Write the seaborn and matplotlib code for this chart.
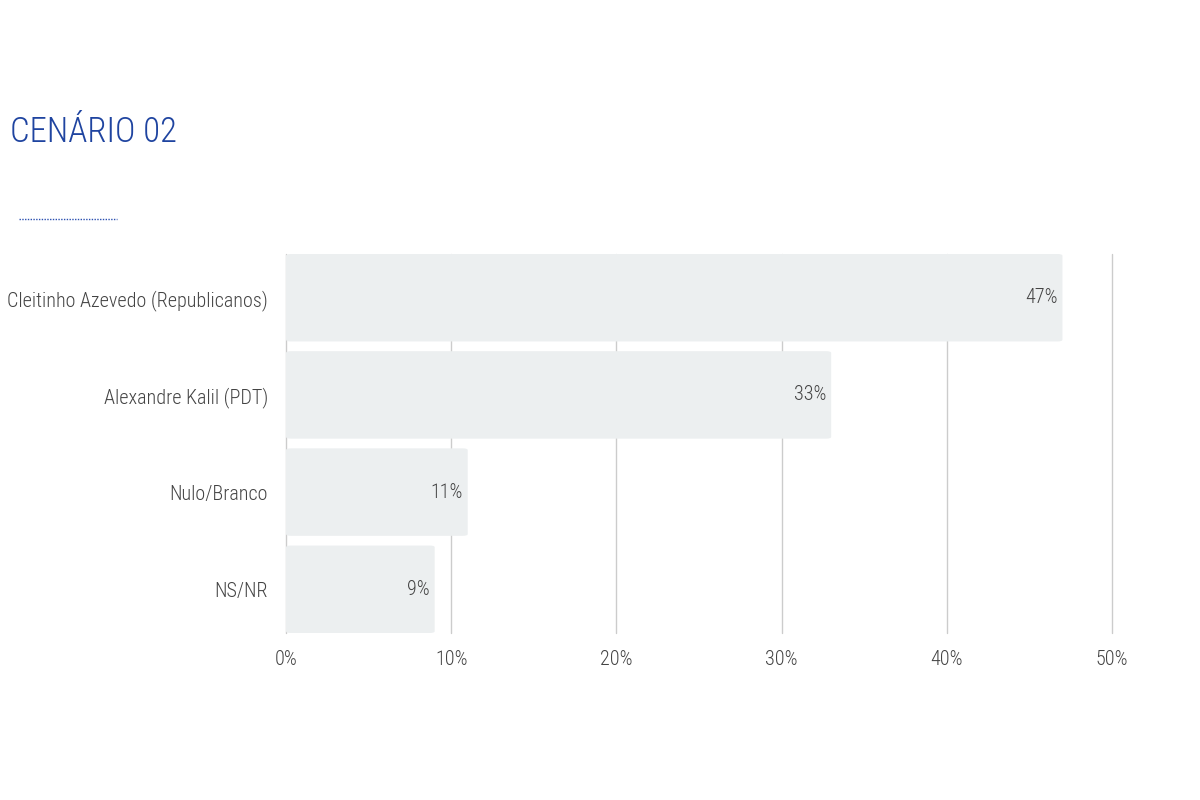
import matplotlib
matplotlib.use("Agg")
import matplotlib.pyplot as plt
import seaborn as sns
import pandas as pd
from matplotlib.lines import Line2D
from matplotlib.patches import FancyBboxPatch

categories = ["Cleitinho Azevedo (Republicanos)", "Alexandre Kalil (PDT)", "Nulo/Branco", "NS/NR"]
values = [47, 33, 11, 9]
xticks = [0, 10, 20, 30, 40, 50]
xticklabels = ["0%", "10%", "20%", "30%", "40%", "50%"]

sns.set_theme(style="white")
plt.rcParams['font.family'] = ['Roboto Condensed', 'DejaVu Sans']
plt.rcParams['font.stretch'] = 'condensed'
plt.rcParams['font.weight'] = 'light'

df = pd.DataFrame({"cat": categories, "val": values})

fig = plt.figure(figsize=(12, 8), dpi=100)
ax = fig.add_axes([286/1200, 1 - 633/800, (1112-286)/1200, (633-254)/800])

for x in xticks:
    ax.axvline(x, color="#cccccc", lw=1, zorder=0, clip_on=False)

sns.barplot(data=df, x="val", y="cat", orient="h", color="#eceff0", width=0.9,
            saturation=1, ax=ax, zorder=2)

# round the bar corners slightly
for p in list(ax.patches):
    x0, y0 = p.get_x(), p.get_y()
    w, h = p.get_width(), p.get_height()
    fb = FancyBboxPatch((x0, y0), w, h,
                        boxstyle="round,pad=0,rounding_size=0.04",
                        mutation_aspect=1, facecolor="#eceff0",
                        edgecolor="none", zorder=2)
    # convert to display-consistent rounding via small data radius in x
    fb.set_boxstyle("round", pad=0, rounding_size=0.3)
    fb.set_mutation_aspect(0.045 / 0.3 * 0.3 / 0.3 * 0.4)
    p.set_visible(False)
    ax.add_patch(fb)

for i, v in enumerate(values):
    ax.text(v - 0.3, i, f"{v}%", ha="right", va="center", fontsize=14.5,
            color="#444444", zorder=3, fontweight="light")

ax.set_xlim(0, 50)
ax.set_ylim(3.45, -0.45)
ax.set_xticks(xticks)
ax.set_xticklabels(xticklabels, fontsize=14.5, color="#444444", fontweight="light")
ax.set_yticklabels(categories, fontsize=14.5, color="#444444", fontweight="light")
ax.tick_params(axis="y", length=0, pad=13)
ax.tick_params(axis="x", length=0, pad=12)
ax.set_xlabel("")
ax.set_ylabel("")
for s in ax.spines.values():
    s.set_visible(False)

fig.text(10/1200, 1 - 132/800, "CENÁRIO 02", fontsize=25, color="#1f44a0",
         ha="left", va="center", fontweight="light")
fig.add_artist(Line2D([19/1200, 117/1200], [1 - 219/800, 1 - 219/800],
                      color="#2a4fb0", lw=1, linestyle=(0, (1, 1)),
                      transform=fig.transFigure))

fig.savefig("out.png", dpi=100, facecolor="white")
